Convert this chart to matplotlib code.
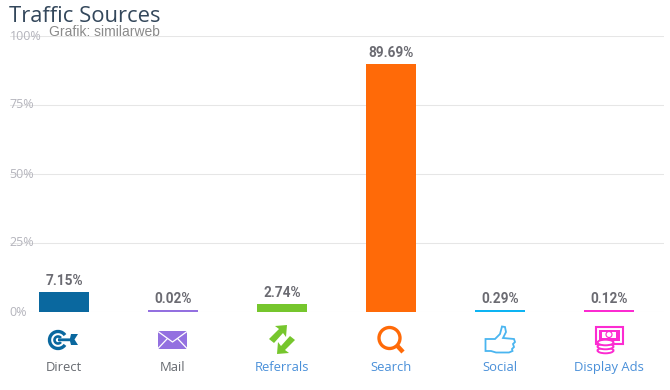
#!/bin/env python

import numpy as np

import matplotlib
matplotlib.use('Agg')
import matplotlib.pyplot as plt
from matplotlib.patches import Arc, Circle, Ellipse, Polygon, Rectangle

# data
categories = ['Direct', 'Mail', 'Referrals', 'Search', 'Social', 'Display Ads']
shares = [7.15, 0.02, 2.74, 89.69, 0.29, 0.12]
value_labels = ['7.15%', '0.02%', '2.74%', '89.69%', '0.29%', '0.12%']
bar_colors = ['#0a689f', '#9370e0', '#76c62d', '#ff6a08', '#0db4f3', '#fc2bd1']
label_colors = ['#666a70', '#666a70', '#4a90d9', '#4a90d9', '#4a90d9', '#4a90d9']
y_ticks = [0, 25, 50, 75, 100]
y_tick_labels = ['0%', '25%', '50%', '75%', '100%']

W, H = 670, 390
MIN_BAR = 0.72  # very small shares still show as a thin strip

fig = plt.figure(figsize=(W / 100, H / 100), dpi=100)
ax = fig.add_axes([9.5 / W, 1 - 312 / H, 654 / W, 276 / H])

x = np.arange(len(categories))
heights = np.maximum(shares, MIN_BAR)
ax.bar(x, heights, width=50 / 109, color=bar_colors, zorder=3)

ax.set_xlim(-0.5, 5.5)
ax.set_ylim(0, 100)
ax.set_yticks(y_ticks, y_tick_labels, ha='left', va='center', family='Open Sans',
              fontsize=9, color='#b4b4bc')
ax.set_xticks(x, categories, family='Open Sans', fontsize=9.4)
for tick, c in zip(ax.get_xticklabels(), label_colors):
    tick.set_color(c)
ax.tick_params(axis='y', length=0, pad=0)
ax.tick_params(axis='x', length=0, pad=35.5)
ax.grid(axis='y', color='#e6e6e6', lw=0.75, zorder=0)
ax.set_axisbelow(True)
for s in ax.spines.values():
    s.set_visible(False)

for xi, h, lab in zip(x, heights, value_labels):
    ax.annotate(lab, (xi, h), xytext=(0, 3), textcoords='offset points', ha='center',
                va='bottom', fontsize=9.8, fontweight='bold', color='#6b6b72',
                family=['Roboto', 'Liberation Sans'])

fig.text(9 / W, 1 - 21.5 / H, 'Traffic Sources', family='Open Sans', fontsize=15.8,
         color='#33475b', va='baseline', ha='left')
fig.text(49 / W, 1 - 36 / H, 'Grafik: similarweb', family='Liberation Sans', fontsize=10,
         color='#8a8a8a', va='baseline', ha='left')

# icons, in pixel coordinates of the picture
ic = fig.add_axes([0, 0, 1, 1], facecolor='none')
ic.set_xlim(0, W)
ic.set_ylim(H, 0)
ic.axis('off')

# Direct
c = bar_colors[0]
ic.add_patch(Arc((58, 340), 17, 17, theta1=35, theta2=325, ec=c, lw=2.4))
ic.add_patch(Arc((58, 340), 7, 7, theta1=35, theta2=325, ec=c, lw=1.9))
ic.add_patch(Polygon([(58, 338.4), (70, 338.4), (71, 334), (78, 334), (74.5, 339.5),
                      (78, 345), (71, 345), (70, 341.2), (58, 341.2)], fc=c, ec='none'))

# Mail
c = bar_colors[1]
ic.add_patch(Rectangle((158, 331), 29, 18, fc=c, ec='none'))
ic.plot([158, 172.5, 187], [331.5, 342, 331.5], color='white', lw=0.9)
ic.plot([158, 167], [348.5, 339], color='white', lw=0.9)
ic.plot([187, 178], [348.5, 339], color='white', lw=0.9)

# Referrals
c = bar_colors[2]
ic.add_patch(Polygon([(269, 339), (279, 329), (275, 326), (287, 325), (286, 337),
                      (283, 333), (274, 343)], fc=c, ec='none'))
ic.add_patch(Polygon([(295, 340), (285, 350), (289, 353), (277, 354), (278, 342),
                      (281, 346), (290, 336)], fc=c, ec='none'))

# Search
c = bar_colors[3]
ic.add_patch(Circle((389.5, 338), 10.5, fill=False, ec=c, lw=2.4))
ic.plot([397, 403], [345.5, 352], color=c, lw=3.2, solid_capstyle='butt')

# Social
c = '#4ab5f0'
ic.add_patch(Polygon([(485.5, 339), (495, 339), (500, 334), (502, 326.5), (505, 327),
                      (506, 332), (503, 338), (514, 339), (515, 342), (513, 344),
                      (514, 347), (512, 349), (512.5, 351), (509, 352.5), (496, 352.5),
                      (491, 351), (485.5, 351)],
                     fill=False, ec=c, lw=1.3))

# Display Ads
c = bar_colors[5]
ic.add_patch(Rectangle((595.5, 326.5), 27, 17, fc='white', ec=c, lw=1.5))
ic.add_patch(Rectangle((598.5, 329.5), 21, 11, fc=c, ec='none'))
ic.add_patch(Rectangle((602, 331.5), 14, 6, fc='white', ec='none'))
ic.add_patch(Circle((609, 334.5), 3.6, fc=c, ec='none'))
ic.add_patch(Circle((609, 334.5), 2.4, fc='white', ec='none'))
for yy in (350.5, 346.5, 342.5):
    ic.add_patch(Ellipse((605.5, yy), 16, 5.6, fc='white', ec=c, lw=1.4))

plt.savefig('out.png', dpi=100)
